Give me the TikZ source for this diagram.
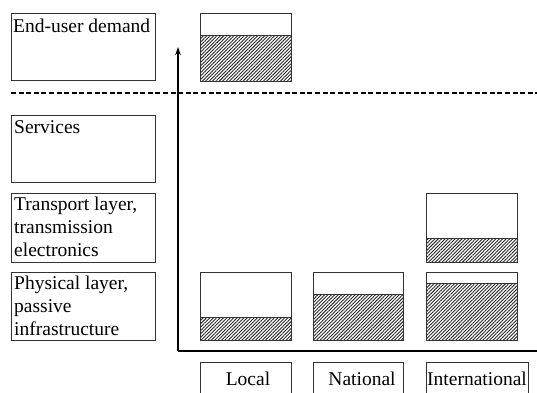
\documentclass[tikz,border=0pt]{standalone}
\usepackage{fontspec}
\setmainfont{Liberation Serif}
\usetikzlibrary{patterns.meta,arrows.meta}
\begin{document}
\begin{tikzpicture}[x=1pt,y=-1pt,
  box/.style={draw=black!80, line width=0.7pt},
  hatch/.style={pattern={Lines[angle=45,distance=2.4pt,line width=0.9pt]}, pattern color=black!85},
  lbl/.style={anchor=north west, align=left, inner sep=0pt, font=\fontsize{19.5}{23.3}\selectfont},
  clbl/.style={anchor=base, inner sep=0pt, font=\fontsize{19.5}{23.3}\selectfont},
  axis/.style={line width=1.5pt, black},
  sep/.style={line width=1.1pt, dash pattern=on 5pt off 2.6pt}]
\useasboundingbox (0,0) rectangle (537,392);
\clip (0,0) rectangle (537,392);
% left category boxes
\draw[box] (11,13) rectangle (155,80);
\node[lbl] (eud) at (13,19) {End-user demand};
\draw[box] (11,115) rectangle (155,182);
\node[lbl] (srv) at (14,120) {Services};
\draw[box] (11,193) rectangle (155,262);
\node[lbl] (trp) at (14,196.5) {Transport layer,\\transmission\\electronics};
\draw[box] (11,272) rectangle (155,340);
\node[lbl] (phy) at (14,275.5) {Physical layer,\\passive\\infrastructure};
% dashed separator
\coordinate (sepL) at (11,93);
\coordinate (sepR) at (537,93);
\draw[sep] (sepL) -- (sepR);
% axes
\coordinate (org) at (178,351);
\coordinate (ytip) at (178,47);
\coordinate (xend) at (540,351);
\draw[axis, -{Stealth[length=8pt,width=5.5pt]}] (org) -- (ytip);
\draw[axis] (org) -- (xend);
% bars: end-user demand
\fill[hatch] (200,35) rectangle (291,81);
\draw[box] (200,13) rectangle (291,81);
\draw[box] (200,35) -- (291,35);
% physical layer bars
\fill[hatch] (200,317) rectangle (291,340);
\draw[box] (200,272) rectangle (291,340);
\draw[box] (200,317) -- (291,317);
\fill[hatch] (313,294) rectangle (403,340);
\draw[box] (313,272) rectangle (403,340);
\draw[box] (313,294) -- (403,294);
\fill[hatch] (426,283) rectangle (517,340);
\draw[box] (426,272) rectangle (517,340);
\draw[box] (426,283) -- (517,283);
% transport layer bar (international)
\fill[hatch] (426,238) rectangle (517,262);
\draw[box] (426,193) rectangle (517,262);
\draw[box] (426,238) -- (517,238);
% bottom labels
\draw[box] (200,362) rectangle (291,400);
\node[clbl] (loc) at (248,385) {Local};
\draw[box] (313,362) rectangle (403,400);
\node[clbl] (nat) at (362,385) {National};
\draw[box] (426,362) rectangle (528,400);
\node[clbl] (int) at (477,385) {International};
\end{tikzpicture}
\end{document}
